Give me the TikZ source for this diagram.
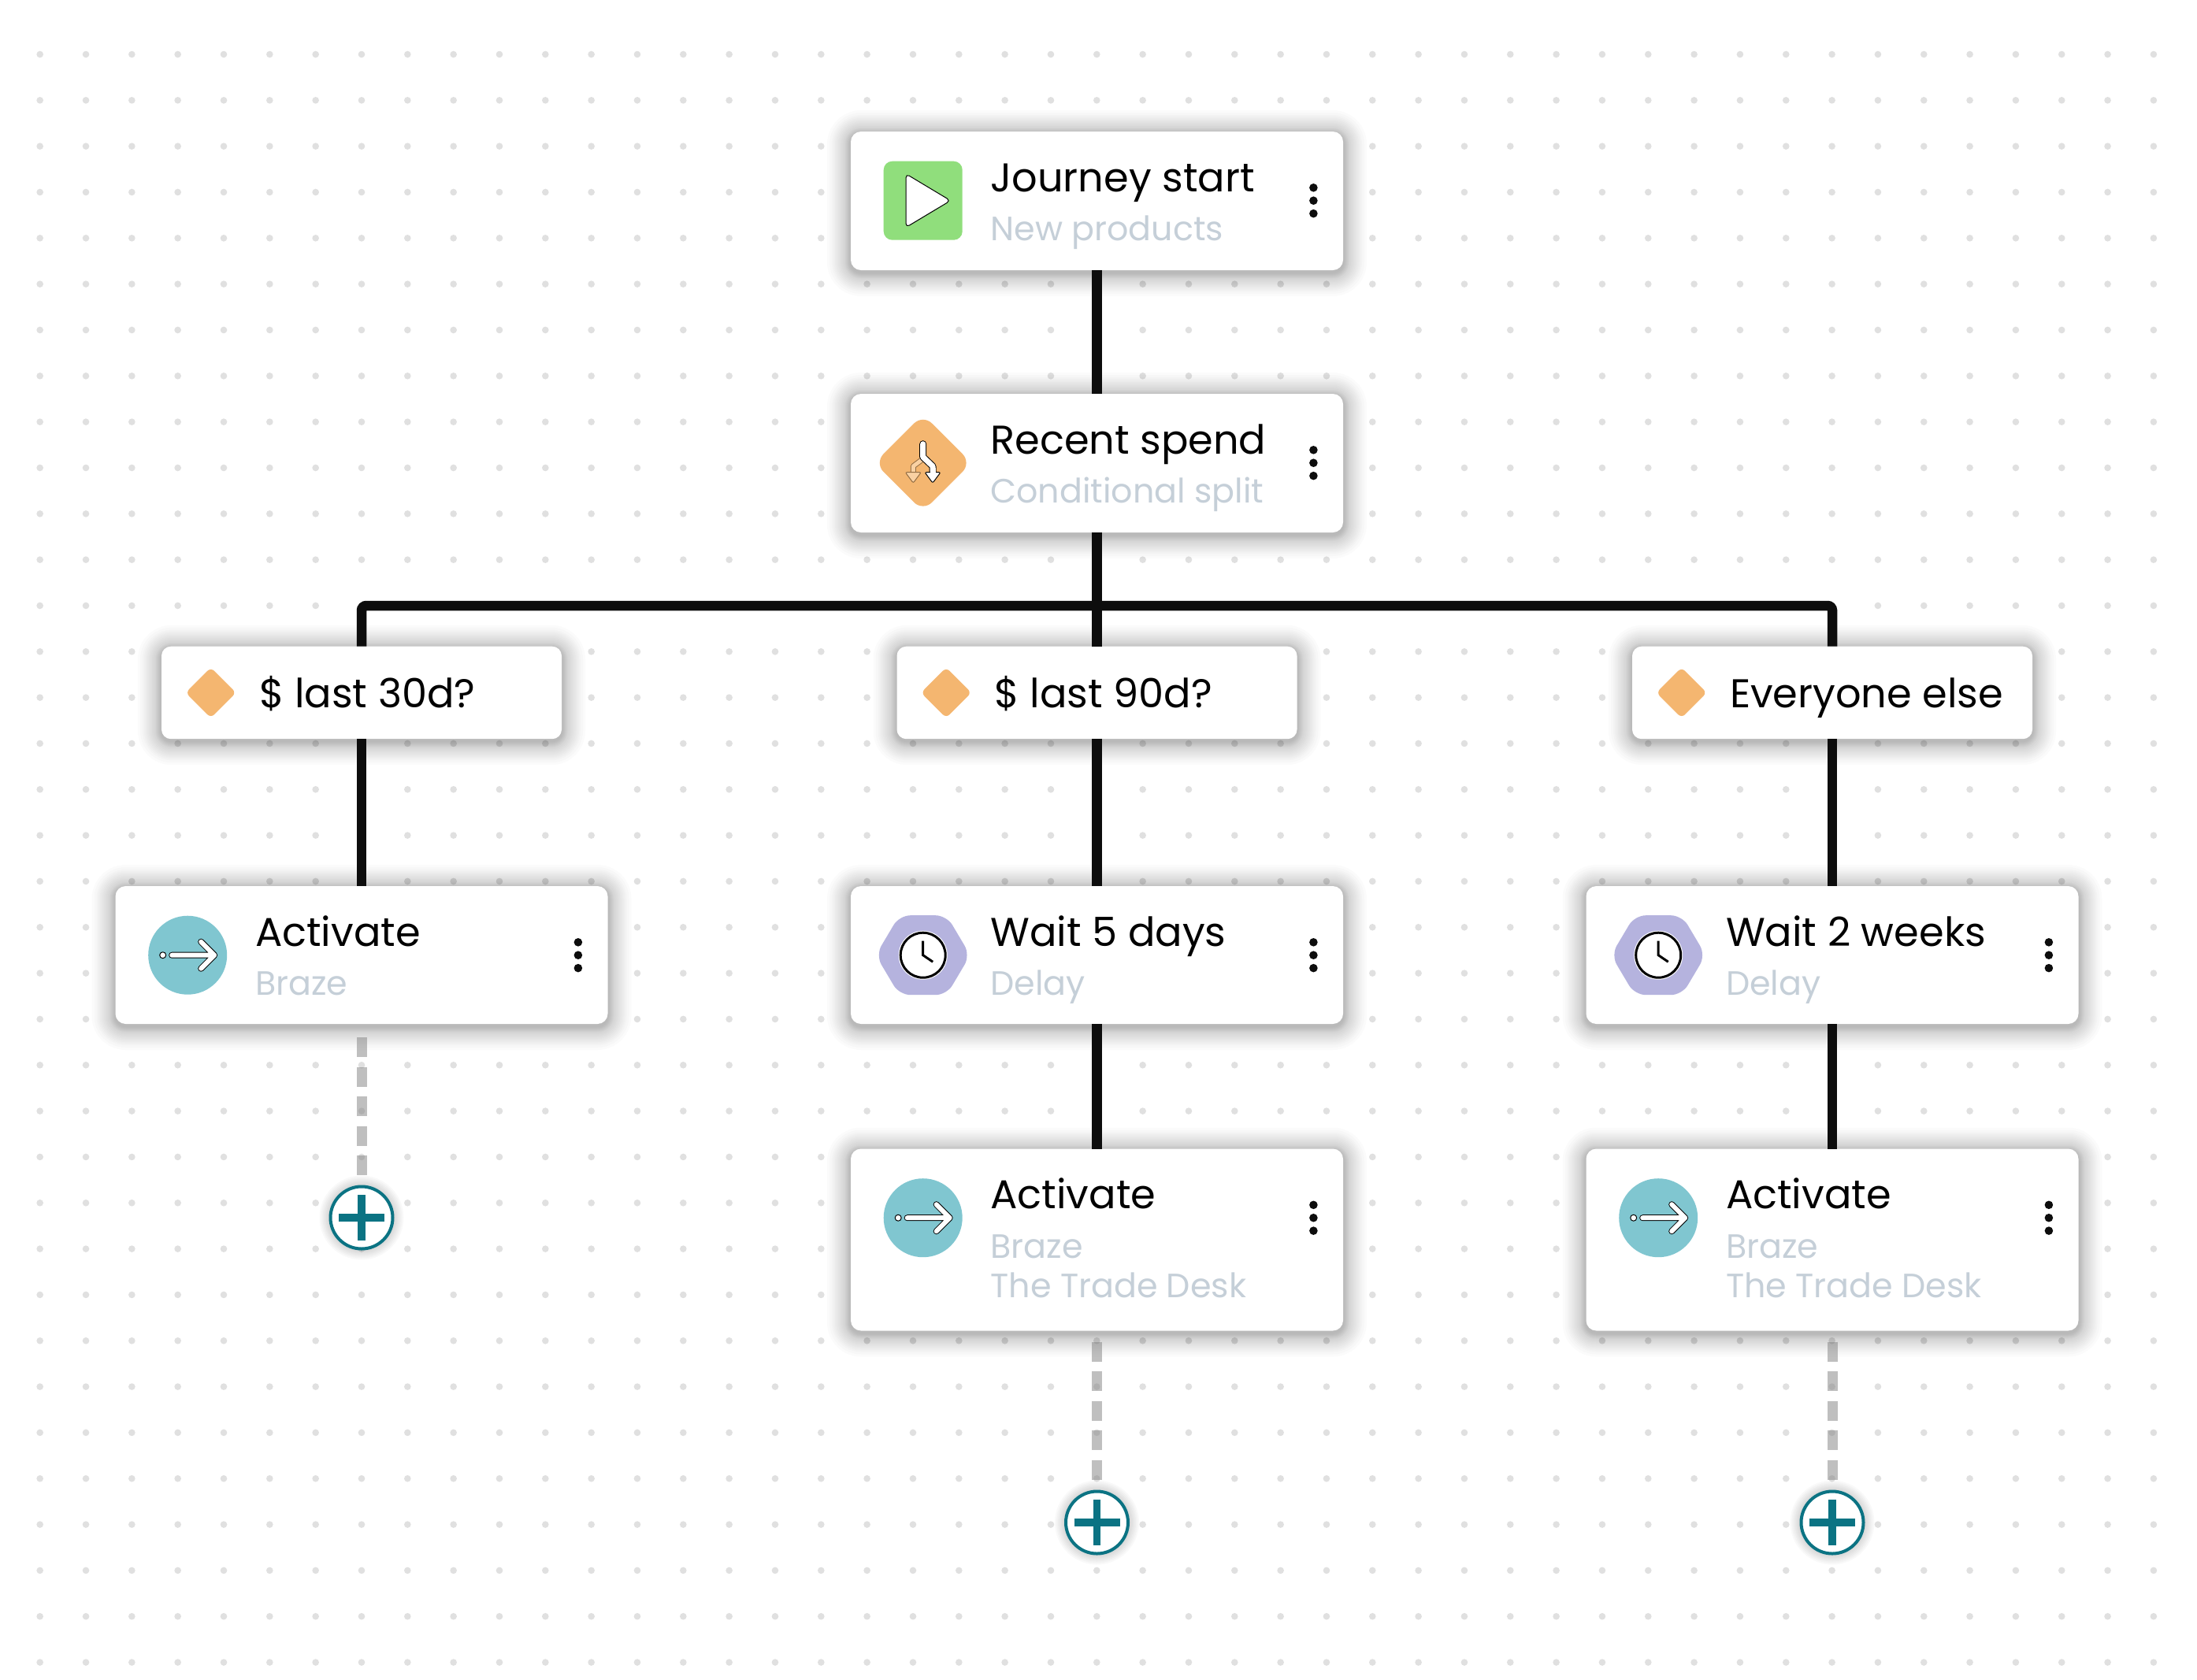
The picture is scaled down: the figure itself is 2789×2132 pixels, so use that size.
\documentclass[tikz,border=0pt]{standalone}
\usepackage{fontspec}
\setmainfont{Poppins}
\definecolor{griddot}{HTML}{E0E0E0}
\definecolor{wireblack}{HTML}{0D0D0D}
\definecolor{subgrey}{HTML}{C5CFD8}
\definecolor{playgreen}{HTML}{90DE7C}
\definecolor{splitorange}{HTML}{F4B670}
\definecolor{splitpale}{HTML}{F9D1A3}
\definecolor{activeteal}{HTML}{80C6D0}
\definecolor{delaypurple}{HTML}{B5B3DE}
\definecolor{addteal}{HTML}{0B7383}

\tikzset{
  flowcard/.style={fill=white,rounded corners=6.5pt,minimum width=312.5pt,anchor=north west},
  branchbox/.style={fill=white,rounded corners=6pt,minimum width=254pt,minimum height=58.75pt,anchor=north west},
  titletext/.style={anchor=base west,text=black,font=\fontsize{25.5}{30}\selectfont},
  subtext/.style={anchor=base west,text=subgrey,font=\fontsize{21.4}{25}\selectfont},
  wire/.style={draw=wireblack,line width=6.25pt},
  ghostwire/.style={draw=black!50,draw opacity=.5,line width=6.5pt,dash pattern=on 12.5pt off 6.25pt},
  addnode/.style={circle,draw=addteal,fill=white,line width=2pt,minimum size=39.5pt},
  iconline/.style={draw=black,fill=white,line width=.5pt,line join=round},
  playicon/.pic={
    \fill[playgreen,rounded corners=5.5pt] (-50,-50) rectangle (50,50);
    \path[iconline,rounded corners=2.5pt] (-21.7,-34) -- (-21.7,34) -- (35,0) -- cycle;
  },
  spliticon/.pic={
    \fill[splitorange,rounded corners=8pt] (-61.5,0) -- (0,-61.5) -- (61.5,0) -- (0,61.5) -- cycle;
    \draw[black!40!splitorange,line width=3.5pt,line cap=round,line join=round] (0,-5) -- (-12.4,4.2) -- (-12.4,13);
    \draw[splitpale,line width=2.5pt,line cap=round,line join=round] (0,-5) -- (-12.4,4.2) -- (-12.4,13);
    \path[draw=black!40!splitorange,fill=splitpale,line width=.5pt,rounded corners=1pt] (-22.4,12) -- (-2.4,12) -- (-12.4,25.5) -- cycle;
    \draw[black,line width=4.5pt,line cap=round,line join=round] (0,-24) -- (0,-7.5) -- (12.3,4.2) -- (12.3,13);
    \draw[white,line width=3.5pt,line cap=round,line join=round] (0,-24) -- (0,-7.5) -- (12.3,4.2) -- (12.3,13);
    \path[iconline,rounded corners=1pt] (2.3,12) -- (22.3,12) -- (12.3,25.5) -- cycle;
    \draw[white,line width=3.5pt] (12.3,6) -- (12.3,14);
  },
  activateicon/.pic={
    \fill[activeteal] (0,0) circle (50);
    \path[iconline] (-31.5,0) circle (4);
    \draw[black,line width=4pt,line cap=round,line join=round] (-20,0) -- (34,0) (17,-17) -- (34,0) -- (17,17);
    \draw[white,line width=3pt,line cap=round,line join=round] (-20,0) -- (34,0) (17,-17) -- (34,0) -- (17,17);
  },
  delayicon/.pic={
    \fill[delaypurple,rounded corners=7pt] (-60,0) -- (-30,-50.5) -- (30,-50.5) -- (60,0) -- (30,50.5) -- (-30,50.5) -- cycle;
    \fill[white] (0,0) circle (31);
    \draw[black,line width=1.5pt] (0,0) circle (28.5);
    \draw[black,line width=1.5pt] (0,-18) -- (0,0) -- (12.5,8.5);
  },
  minidiamond/.pic={
    \fill[splitorange,rounded corners=3pt] (-32,0) -- (0,-32) -- (32,0) -- (0,32) -- cycle;
  }
}

\newcommand{\softshadow}[4]{%
  \foreach \r in {1,2,...,8,10,12,...,24,27,30}
    \fill[black,opacity=.017,rounded corners={(13+\r)*0.5pt}] (#1-\r,#2-\r+3) rectangle (#3+\r,#4+\r+3);
}
% name, left, top, height, icon, title, sub
\newcommand{\stepcard}[7]{%
  \softshadow{#2}{#3}{#2+625}{#3+#4}
  \node[flowcard,minimum height=#4*0.5pt] (#1) at (#2,#3) {};
  \pic[transform shape] at ({#2+91.7},{#3+87.7}) {#5};
  \node[titletext] (#1-title) at ({#2+177.5},{#3+76}) {#6};
  \node[subtext] (#1-sub) at ({#2+177.5},{#3+138.5}) {#7};
  \foreach \d in {-16.4,0,16.4}
    \fill[wireblack] ({#2+587.4},{#3+87.7+\d}) circle (5.3);
}
% name, left, text
\newcommand{\branchcard}[3]{%
  \softshadow{#2}{820.7}{#2+508}{938.2}
  \node[branchbox] (#1) at (#2,820.7) {};
  \pic[transform shape] at ({#2+62.7},879.5) {minidiamond};
  \node[titletext] (#1-title) at ({#2+124},898) {#3};
}
% name, x, y
\newcommand{\addbutton}[3]{%
  \foreach \r in {2,4,...,12}
    \fill[black,opacity=.025] (#2,#3) circle (41.5+\r);
  \node[addnode] (#1) at (#2,#3) {};
  \draw[addteal,line width=4.65pt] (#2-29,#3) -- (#2+29,#3) (#2,#3-29) -- (#2,#3+29);
}

\begin{document}
\begin{tikzpicture}[x=0.5pt,y=0.5pt,yscale=-1,inner sep=0pt,outer sep=0pt]
\useasboundingbox (0,0) rectangle (2789,2132);
\fill[white] (0,0) rectangle (2789,2132);

% dot grid
\foreach \i in {0,...,46}
  \foreach \j in {0,...,35}
    \fill[griddot] ({50.7+58.33*\i},{69+58.33*\j}) circle (4.3);

% cards
\stepcard{start}{1080}{167}{176}{playicon}{Journey start}{New products}
\stepcard{recent}{1080}{500}{176}{spliticon}{Recent spend}{Conditional split}
\branchcard{lastthirty}{205}{\$ last 30d?}
\branchcard{lastninety}{1138.5}{\$ last 90d?}
\branchcard{everyone}{2072}{Everyone else}
\stepcard{brazeleft}{146.5}{1125}{175}{activateicon}{Activate}{Braze}
\stepcard{waitfive}{1080}{1125}{175}{delayicon}{Wait 5 days}{Delay}
\stepcard{waittwo}{2013.5}{1125}{175}{delayicon}{Wait 2 weeks}{Delay}
\stepcard{brazemid}{1080}{1458.5}{231}{activateicon}{Activate}{Braze}
\stepcard{brazeright}{2013.5}{1458.5}{231}{activateicon}{Activate}{Braze}
\node[subtext] (brazemid-desk) at (1257.5,1647) {The Trade Desk};
\node[subtext] (brazeright-desk) at (2191,1647) {The Trade Desk};

% add buttons
\addbutton{addleft}{459}{1546}
\addbutton{addmid}{1392.5}{1933}
\addbutton{addright}{2326}{1933}

% connectors
\coordinate (hub) at (1392.5,769);
\draw[wire] (start.south) -- (recent.north);
\draw[wire] (recent.south) -- (lastninety.north);
\draw[wire,rounded corners=3pt] (lastthirty.north) |- (hub) -| (everyone.north);
\draw[wire] (lastthirty.south) -- (brazeleft.north);
\draw[wire] (lastninety.south) -- (waitfive.north);
\draw[wire] (everyone.south) -- (waittwo.north);
\draw[wire] (waitfive.south) -- (brazemid.north);
\draw[wire] (waittwo.south) -- (brazeright.north);
\draw[ghostwire] ([yshift=8.5pt]brazeleft.south) -- ([yshift=-7pt]addleft.north);
\draw[ghostwire] ([yshift=7pt]brazemid.south) -- ([yshift=-7pt]addmid.north);
\draw[ghostwire] ([yshift=7pt]brazeright.south) -- ([yshift=-7pt]addright.north);
\end{tikzpicture}
\end{document}
